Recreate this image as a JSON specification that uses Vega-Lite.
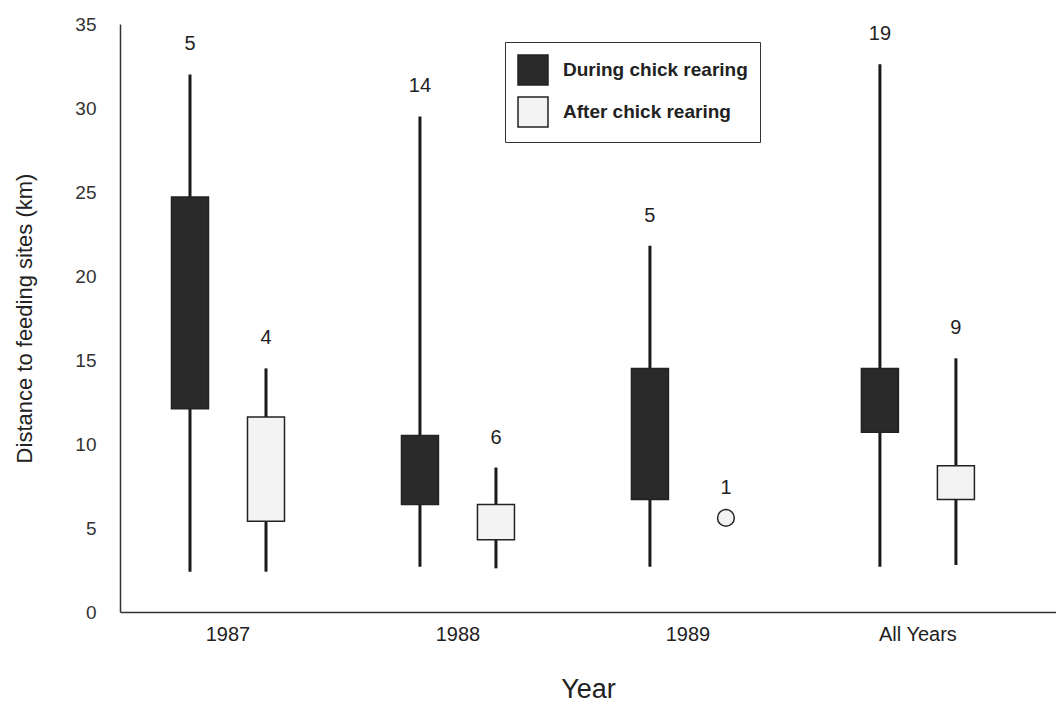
{
  "$schema": "https://vega.github.io/schema/vega-lite/v6.json",
  "width": 936,
  "height": 588,
  "autosize": {"type": "none"},
  "padding": {"left": 120, "top": 24, "right": 0, "bottom": 90},
  "background": "white",
  "config": {
    "view": {"stroke": null},
    "font": "Liberation Sans"
  },
  "data": {
    "values": [
      {"year": "1987", "period": "During chick rearing", "lo": 2.4, "q1": 12.1, "q3": 24.7, "hi": 32.0, "n": 5},
      {"year": "1987", "period": "After chick rearing", "lo": 2.4, "q1": 5.4, "q3": 11.6, "hi": 14.5, "n": 4},
      {"year": "1988", "period": "During chick rearing", "lo": 2.7, "q1": 6.4, "q3": 10.5, "hi": 29.5, "n": 14},
      {"year": "1988", "period": "After chick rearing", "lo": 2.6, "q1": 4.3, "q3": 6.4, "hi": 8.6, "n": 6},
      {"year": "1989", "period": "During chick rearing", "lo": 2.7, "q1": 6.7, "q3": 14.5, "hi": 21.8, "n": 5},
      {"year": "1989", "period": "After chick rearing", "lo": 5.6, "q1": null, "q3": null, "hi": 5.6, "n": 1},
      {"year": "All Years", "period": "During chick rearing", "lo": 2.7, "q1": 10.7, "q3": 14.5, "hi": 32.6, "n": 19},
      {"year": "All Years", "period": "After chick rearing", "lo": 2.8, "q1": 6.7, "q3": 8.7, "hi": 15.1, "n": 9}
    ]
  },
  "encoding": {
    "x": {
      "field": "year",
      "type": "nominal",
      "sort": ["1987", "1988", "1989", "All Years"],
      "scale": {"paddingInner": 0.339, "paddingOuter": 0.2045, "align": 0.34},
      "axis": {
        "title": "Year",
        "titleFontSize": 27,
        "titleFontWeight": "normal",
        "titleColor": "#222",
        "titlePadding": 32,
        "labelFontSize": 20,
        "labelColor": "#222",
        "labelPadding": 12,
        "labelAngle": 0,
        "ticks": false,
        "domainColor": "#333",
        "domainWidth": 1.5
      }
    },
    "xOffset": {
      "field": "period",
      "type": "nominal",
      "sort": ["During chick rearing", "After chick rearing"],
      "scale": {"paddingInner": 0, "paddingOuter": 0}
    }
  },
  "layer": [
    {
      "transform": [{"filter": "datum.q1 != null"}],
      "mark": {"type": "rule", "strokeWidth": 3, "color": "#1a1a1a"},
      "encoding": {
        "y": {
          "field": "lo",
          "type": "quantitative",
          "scale": {"domain": [0, 35], "nice": false},
          "axis": {
            "title": "Distance to feeding sites (km)",
            "titleFontSize": 22,
            "titleFontWeight": "normal",
            "titleColor": "#222",
            "titlePadding": 38,
            "labelFontSize": 19,
            "labelColor": "#333",
            "labelPadding": 24,
            "values": [0, 5, 10, 15, 20, 25, 30, 35],
            "ticks": false,
            "grid": false,
            "domainColor": "#333",
            "domainWidth": 1.5
          }
        },
        "y2": {"field": "hi"}
      }
    },
    {
      "transform": [{"filter": "datum.q1 != null"}],
      "mark": {"type": "bar", "size": 37, "stroke": "#222", "strokeWidth": 1.5},
      "encoding": {
        "y": {"field": "q1", "type": "quantitative"},
        "y2": {"field": "q3"},
        "fill": {
          "field": "period",
          "type": "nominal",
          "sort": ["During chick rearing", "After chick rearing"],
          "scale": {"range": ["#2a2a2a", "#f3f3f3"]},
          "legend": {
            "title": null,
            "orient": "none",
            "legendX": 385,
            "legendY": 18,
            "padding": 12,
            "strokeColor": "#333",
            "fillColor": "white",
            "symbolType": "square",
            "symbolSize": 900,
            "symbolStrokeColor": "#222",
            "symbolStrokeWidth": 1.5,
            "labelFontSize": 19,
            "labelFontWeight": "bold",
            "labelColor": "#222",
            "labelOffset": 14,
            "labelLimit": 400,
            "rowPadding": 6
          }
        }
      }
    },
    {
      "transform": [{"filter": "datum.q1 == null"}],
      "mark": {"type": "point", "shape": "circle", "size": 280, "filled": false, "fill": "#f3f3f3", "stroke": "#222", "strokeWidth": 1.5, "opacity": 1},
      "encoding": {
        "y": {"field": "hi", "type": "quantitative"}
      }
    },
    {
      "mark": {"type": "text", "fontSize": 20, "dy": -30, "color": "#222"},
      "encoding": {
        "y": {"field": "hi", "type": "quantitative"},
        "text": {"field": "n", "type": "quantitative"}
      }
    }
  ]
}
